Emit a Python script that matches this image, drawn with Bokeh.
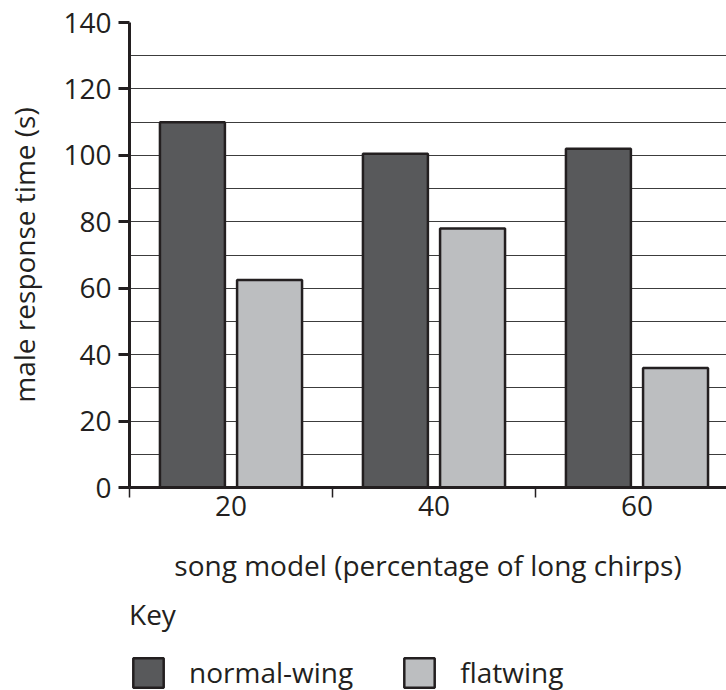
from bokeh.plotting import figure
from bokeh.layouts import column
from bokeh.models import ColumnDataSource, FixedTicker, Legend, LegendItem, Range1d
from bokeh.embed import file_html
from bokeh.resources import INLINE

categories = ["20", "40", "60"]
normal_wing = [110, 100.5, 102]
flatwing = [62.5, 78, 36]
y_ticks = [0, 20, 40, 60, 80, 100, 120, 140]
grid_ticks = [0, 10, 20, 30, 40, 50, 60, 70, 80, 90, 100, 110, 120, 130, 140]
series_names = ["normal-wing", "flatwing"]
series_colors = ["#58595b", "#bcbec0"]

FONT = "Open Sans"
INK = "#231f20"

centers = [i + 0.5 for i in range(len(categories))]
src = ColumnDataSource(dict(
    x_n=[c - 0.19 for c in centers],
    x_f=[c + 0.19 for c in centers],
    normal=normal_wing,
    flat=flatwing,
))

p = figure(width=726, height=594, output_backend="svg", toolbar_location=None,
           x_range=Range1d(0, 2.941), y_range=Range1d(0, 140),
           min_border_left=129, min_border_right=0, min_border_top=22, min_border_bottom=107)
p.outline_line_color = None
p.background_fill_color = "white"

p.vbar(x="x_n", top="normal", width=0.32, source=src,
       fill_color=series_colors[0], line_color=INK, line_width=2.5)
p.vbar(x="x_f", top="flat", width=0.32, source=src,
       fill_color=series_colors[1], line_color=INK, line_width=2.5)

# grid
p.xgrid.visible = False
p.ygrid.ticker = FixedTicker(ticks=grid_ticks)
p.ygrid.grid_line_color = "#3c3c3c"
p.ygrid.grid_line_width = 1.2

# y axis
ya = p.yaxis[0]
ya.ticker = FixedTicker(ticks=y_ticks)
ya.axis_line_width = 3
ya.axis_line_color = INK
ya.major_tick_line_width = 3
ya.major_tick_line_color = INK
ya.major_tick_out = 11
ya.major_tick_in = 0
ya.minor_tick_line_color = None
ya.major_label_text_font = FONT
ya.major_label_text_font_size = "28px"
ya.major_label_text_color = INK
ya.major_label_standoff = 7
ya.axis_label = "male response time (s)"
ya.axis_label_text_font = FONT
ya.axis_label_text_font_size = "28px"
ya.axis_label_text_font_style = "normal"
ya.axis_label_text_color = INK
ya.axis_label_standoff = 17

# x axis
xa = p.xaxis[0]
xa.ticker = FixedTicker(ticks=centers, minor_ticks=[0, 1, 2, 3])
xa.major_label_overrides = {c: lab for c, lab in zip(centers, categories)}
xa.axis_line_width = 3
xa.axis_line_color = INK
xa.major_tick_line_color = None
xa.major_tick_out = 0
xa.major_tick_in = 0
xa.minor_tick_line_color = INK
xa.minor_tick_line_width = 1.5
xa.minor_tick_out = 10
xa.minor_tick_in = 0
xa.major_label_text_font = FONT
xa.major_label_text_font_size = "28px"
xa.major_label_text_color = INK
xa.major_label_standoff = -2
xa.axis_label = "song model (percentage of long chirps)"
xa.axis_label_text_font = FONT
xa.axis_label_text_font_size = "28px"
xa.axis_label_text_font_style = "normal"
xa.axis_label_text_color = INK
xa.axis_label_standoff = 27

# key panel (legend swatches come from hidden glyphs styled like the bars)
k = figure(width=726, height=96, output_backend="svg", toolbar_location=None,
           x_range=Range1d(0, 1), y_range=Range1d(0, 1),
           x_axis_location=None, y_axis_location=None,
           min_border_left=129, min_border_right=0, min_border_top=0, min_border_bottom=0)
k.outline_line_color = None
k.xgrid.visible = False
k.ygrid.visible = False
key_items = []
for name, color in zip(series_names, series_colors):
    r = k.vbar(x=[0.5], top=[1], width=0.1, fill_color=color, line_color=INK, line_width=2.5)
    r.visible = False
    key_items.append(LegendItem(label=name, renderers=[r]))

legend = Legend(items=key_items, orientation="horizontal", location=(0, -1),
                title="Key", title_text_font=FONT, title_text_font_size="28px",
                title_text_font_style="normal", title_text_color=INK,
                title_standoff=20,
                label_text_font=FONT, label_text_font_size="28px", label_text_color=INK,
                glyph_width=38, glyph_height=37, label_standoff=22, spacing=47,
                inactive_fill_alpha=0,
                padding=0, margin=0, border_line_color=None, background_fill_alpha=0)
k.add_layout(legend, "center")

layout = column(p, k, spacing=0)
open("out.html", "w").write(file_html(layout, INLINE))
